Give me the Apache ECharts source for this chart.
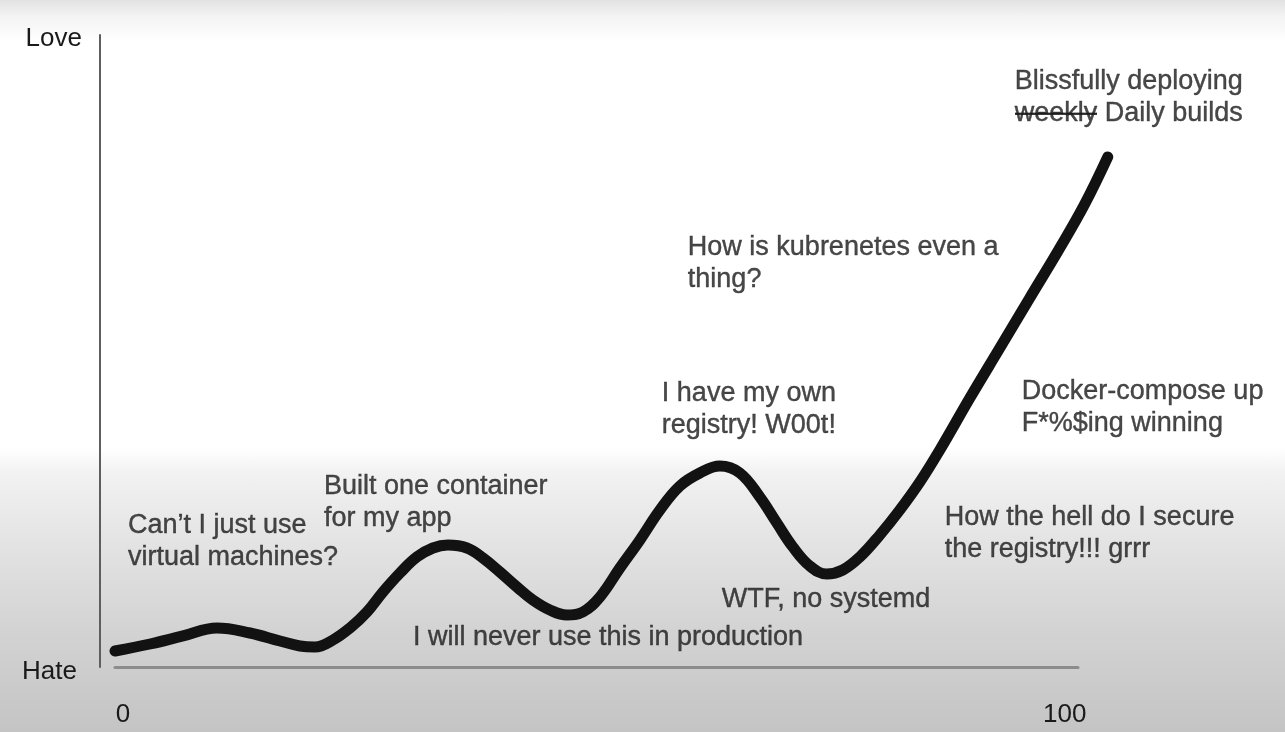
<!DOCTYPE html>
<html>
<head>
<meta charset="utf-8">
<script src="https://cdn.jsdelivr.net/npm/echarts@6/dist/echarts.min.js"></script>
<style>
  html, body { margin: 0; padding: 0; }
  #main {
    width: 1285px; height: 732px;
    background: linear-gradient(to bottom, #e2e2e2 0px, #f3f3f3 16px, #ffffff 42px, #ffffff 448px, #f2f2f2 472px, #e4e4e4 540px, #d3d3d3 630px, #c4c4c4 732px);
  }
</style>
</head>
<body>
<div id="main"></div>
<script>
// ---- data ----
var curveX = [-0.85, 2.87, 6.37, 9.98, 13.48, 16.67, 18.79, 20.38, 22.29, 24.1, 25.9, 27.6, 29.41, 31.21, 32.91, 34.5,
  36.52, 38.22, 40.02, 41.83, 43.52, 45.33, 47.13, 48.83, 50.64, 52.76, 54.88, 57.01, 59.13, 61.25, 63.38,
  65.5, 67.62, 69.43, 71.13, 72.93, 74.73, 76.43, 78.24, 80.36, 82.48, 84.61, 86.73, 89.92, 93.1, 96.28, 99.47, 102.12, 104.56];
var curveY = [2.53, 3.64, 4.91, 6.17, 5.38, 4.11, 3.32, 3.16, 4.27, 6.17, 8.7, 11.87, 14.87, 17.41, 18.83, 19.3,
  18.83, 17.25, 15.03, 12.66, 10.6, 9.02, 8.23, 8.7, 11.08, 15.66, 20.09, 24.84, 28.64, 30.7, 31.8,
  30.7, 26.9, 22.78, 18.99, 15.98, 14.72, 15.35, 17.41, 20.89, 24.84, 29.27, 34.34, 42.56, 50.47, 58.39, 66.3, 73.26, 80.7];

var xTickValues = [0, 100];
var xTickLabels = ['0', '100'];
var yTickValues = [0, 100];
var yTickLabels = ['Hate', 'Love'];
var xAxisEnd = 101.38;

var noteText = [
  'Can’t I just use\nvirtual machines?',
  'Built one container\nfor my app',
  'I will never use this in production',
  'I have my own\nregistry! W00t!',
  'How is kubrenetes even a\nthing?',
  'WTF, no systemd',
  'How the hell do I secure\nthe registry!!! grrr',
  'Docker-compose up\nF*%$ing winning',
  'Blissfully deploying\n{s|weekly} Daily builds'
];
var noteX = [0.53, 21.34, 30.79, 57.22, 59.98, 63.59, 87.26, 95.44, 94.69];
var noteY = [24.84, 31.01, 7.12, 45.73, 68.83, 13.13, 26.11, 46.04, 95.09];

// ---- build ----
var curveData = curveX.map(function (x, i) { return [x, curveY[i]]; });
var noteData = noteX.map(function (x, i) { return { value: [x, noteY[i]], note: noteText[i] }; });

// strike-through helper image for the crossed-out word
var strike = document.createElement('canvas');
strike.width = 20; strike.height = 32;
var sctx = strike.getContext('2d');
sctx.fillStyle = '#1a1a1a';
sctx.fillRect(0, 14.5, 20, 2.4);

var FONT = '"Liberation Sans", Arial, sans-serif';
var TEXT = '#1a1a1a';

var chart = echarts.init(document.getElementById('main'), null, { renderer: 'canvas' });
chart.setOption({
  backgroundColor: 'transparent',
  animation: false,
  grid: [
    { left: 115, right: 159, top: 35, bottom: 65, containLabel: false, outerBoundsMode: 'none' },
    { left: 115, right: 207, top: 35, bottom: 65, containLabel: false, outerBoundsMode: 'none' }
  ],
  xAxis: [
    {
      type: 'value', min: -0.85, max: 106.5, gridIndex: 0,
      splitLine: { show: false },
      axisTick: { show: false },
      axisLine: { show: false },
      axisLabel: {
        customValues: xTickValues,
        formatter: function (v) { return xTickLabels[xTickValues.indexOf(v)]; },
        fontFamily: FONT, fontSize: 26, color: TEXT, margin: 35
      }
    },
    {
      type: 'value', min: -0.85, max: xAxisEnd, gridIndex: 1,
      splitLine: { show: false },
      axisTick: { show: false },
      axisLabel: { show: false },
      axisLine: { show: true, onZero: false, lineStyle: { color: '#8c8c8c', width: 3 } }
    }
  ],
  yAxis: [
    {
      type: 'value', min: 0, max: 100, offset: 15, gridIndex: 0,
      splitLine: { show: false },
      axisTick: { show: false },
      axisLine: { show: true, onZero: false, lineStyle: { color: '#5e5e5e', width: 2 } },
      axisLabel: {
        customValues: yTickValues,
        formatter: function (v) {
          var t = yTickLabels[yTickValues.indexOf(v)];
          return v === 0 ? '{h|' + t + '}' : '{l|' + t + '}';
        },
        fontFamily: FONT, fontSize: 26, color: TEXT, margin: 18,
        rich: {
          h: { fontFamily: FONT, fontSize: 26, color: TEXT, padding: [10, 5, 0, 0] },
          l: { fontFamily: FONT, fontSize: 26, color: TEXT, padding: [8, 0, 0, 0] }
        }
      }
    },
    { type: 'value', min: 0, max: 100, gridIndex: 1, show: false }
  ],
  series: [
    {
      type: 'line',
      xAxisIndex: 0, yAxisIndex: 0,
      data: curveData,
      smooth: 0.4,
      showSymbol: false,
      symbol: 'none',
      clip: false,
      lineStyle: { color: '#121212', width: 11, cap: 'round', join: 'round' },
      z: 3
    },
    {
      type: 'scatter',
      xAxisIndex: 0, yAxisIndex: 0,
      data: noteData,
      symbolSize: 0.1,
      itemStyle: { color: 'rgba(0,0,0,0)' },
      clip: false,
      silent: true,
      label: {
        show: true,
        position: [0, 0],
        align: 'left',
        verticalAlign: 'top',
        fontFamily: FONT,
        fontSize: 27,
        lineHeight: 32,
        color: TEXT,
        textBorderColor: TEXT,
        textBorderWidth: 0.4,
        formatter: function (p) { return p.data.note; },
        rich: {
          s: {
            fontFamily: FONT, fontSize: 27, lineHeight: 32, color: TEXT,
            textBorderColor: TEXT, textBorderWidth: 0.4,
            backgroundColor: { image: strike }
          }
        }
      },
      z: 4
    }
  ]
});
</script>
</body>
</html>
